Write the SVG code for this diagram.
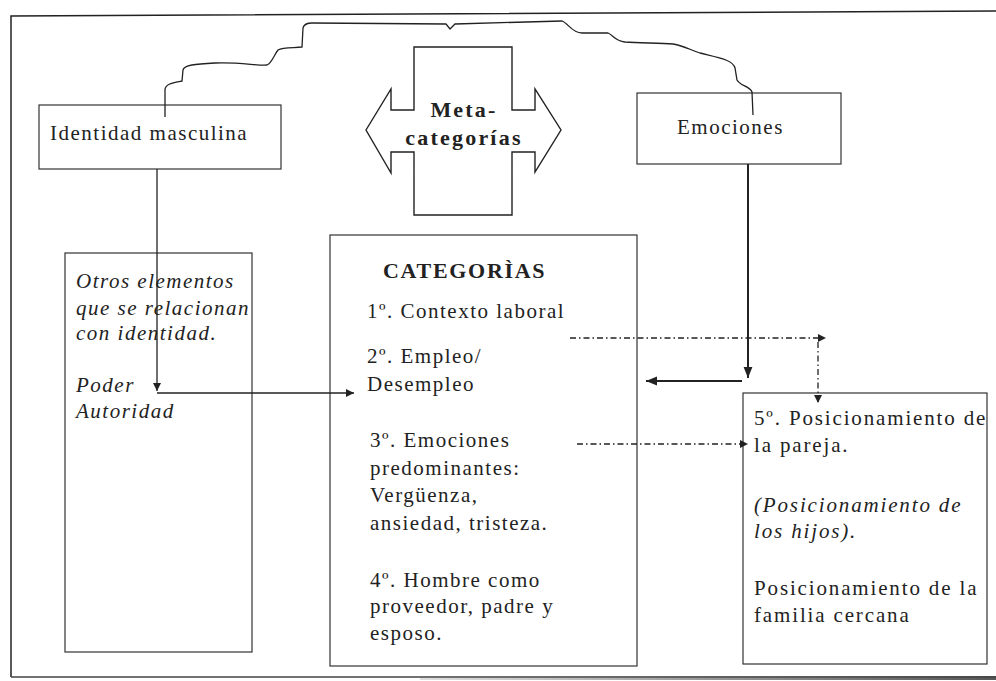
<svg xmlns="http://www.w3.org/2000/svg" width="996" height="681" viewBox="0 0 996 681">
<defs>
<style>
.box{fill:#fff;stroke:#333;stroke-width:1.2}
.t{font-family:"Liberation Serif","Times New Roman",serif;font-size:21px;letter-spacing:1.5px;fill:#222}
.p{letter-spacing:1.85px}
.i{font-style:italic}
.b{font-weight:bold}
.ln{fill:none;stroke:#222;stroke-width:1.3}
.thk{fill:none;stroke:#222;stroke-width:2}
.dd{fill:none;stroke:#222;stroke-width:1.3;stroke-dasharray:6 3 1.5 3}
</style>
<marker id="ah" viewBox="0 0 10 10" refX="10" refY="5" markerWidth="8" markerHeight="8" markerUnits="userSpaceOnUse" orient="auto">
<path d="M0,0 L10,5 L0,10 z" fill="#222"/>
</marker>
<marker id="ahb" viewBox="0 0 10 10" refX="10" refY="5" markerWidth="11" markerHeight="11" markerUnits="userSpaceOnUse" orient="auto">
<path d="M0,1 L10,5 L0,9 z" fill="#222"/>
</marker>
<linearGradient id="band" x1="0" x2="1" y1="0" y2="0">
<stop offset="0" stop-color="#666" stop-opacity="0.2"/>
<stop offset="0.5" stop-color="#555" stop-opacity="0.6"/>
<stop offset="1" stop-color="#444" stop-opacity="0.9"/>
</linearGradient>
</defs>
<rect width="996" height="681" fill="#fff"/>
<g id="frame">
<path d="M11,677 L11,16 L996,11" fill="none" stroke="#222" stroke-width="1.5"/>
<line x1="11" y1="677" x2="996" y2="677" stroke="#444" stroke-width="1.5"/>
<rect x="420" y="676" width="576" height="4" fill="url(#band)"/>
</g>
<g id="meta">
<path d="M366,130 L391,89 L391,110 L414,110 L414,47 L512,47 L512,110 L535,110 L535,89 L561,130 L535,172 L535,152 L512,152 L512,215 L414,215 L414,152 L391,152 L391,173 Z" fill="#fff" stroke="#222" stroke-width="1.4"/>
<text class="t b" x="464" y="117" text-anchor="middle" style="font-size:22px;letter-spacing:2.2px">Meta-</text>
<text class="t b" x="464" y="145" text-anchor="middle" style="font-size:22px;letter-spacing:2.2px">categorías</text>
</g>
<g id="identidad">
<rect class="box" x="39" y="105" width="242" height="64"/>
<text class="t" x="50" y="140">Identidad masculina</text>
</g>
<g id="emociones">
<rect class="box" x="637" y="93" width="204" height="71"/>
<text class="t" x="677" y="134">Emociones</text>
</g>
<g id="otros">
<rect class="box" x="65" y="253" width="187" height="399"/>
<text class="t i" x="76" y="288">Otros elementos</text>
<text class="t i" x="76" y="315">que se relacionan</text>
<text class="t i" x="76" y="340">con identidad.</text>
<text class="t i" x="76" y="392">Poder</text>
<text class="t i" x="76" y="418">Autoridad</text>
</g>
<g id="categorias">
<rect class="box" x="330" y="235" width="307" height="431"/>
<text class="t b" x="383" y="278" style="font-size:22px;letter-spacing:1.7px">CATEGORÌAS</text>
<text class="t" x="367" y="318">1º. Contexto laboral</text>
<text class="t" x="367" y="363">2º. Empleo/</text>
<text class="t" x="367" y="391">Desempleo</text>
<text class="t" x="370" y="447">3º. Emociones</text>
<text class="t" x="370" y="475">predominantes:</text>
<text class="t" x="370" y="502">Vergüenza,</text>
<text class="t" x="370" y="530">ansiedad, tristeza.</text>
<text class="t" x="370" y="587">4º. Hombre como</text>
<text class="t" x="370" y="613">proveedor, padre y</text>
<text class="t" x="370" y="640">esposo.</text>
</g>
<g id="posicionamiento">
<rect class="box" x="743" y="393" width="244" height="271"/>
<text class="t p" x="754" y="425">5º. Posicionamiento de</text>
<text class="t p" x="754" y="452">la pareja.</text>
<text class="t i p" x="754" y="512">(Posicionamiento de</text>
<text class="t i p" x="754" y="538">los hijos).</text>
<text class="t p" x="754" y="595">Posicionamiento de la</text>
<text class="t p" x="754" y="622">familia cercana</text>
</g>
<g id="connectors">
<path class="ln" d="M165,117 L165,90 C165,84 172,83 182,81 L183,70 C184,65 195,64 215,63 C240,62 258,66 267,65 C272,63 274,55 278,50 C283,47 295,48 302,47 L303,28 C304,24 307,23 312,23 L446,24 L450,29 L455,24 L562,21 C568,23 572,33 582,33 L608,33 C613,35 615,41 625,42 C640,43 660,43 673,44 C685,46 690,50 700,53 C720,58 733,60 735,68 L737,80 C740,86 750,86 752,92 L753,115"/>
<line class="ln" x1="157" y1="169" x2="157" y2="391" marker-end="url(#ah)"/>
<line class="ln" x1="157" y1="393" x2="354" y2="393" marker-end="url(#ah)"/>
<line class="thk" x1="748" y1="164" x2="748" y2="378" marker-end="url(#ahb)"/>
<line class="thk" x1="742" y1="381" x2="646" y2="381" marker-end="url(#ahb)"/>
<line class="dd" x1="570" y1="338" x2="826" y2="338" marker-end="url(#ah)"/>
<line class="dd" x1="818" y1="342" x2="818" y2="403" marker-end="url(#ah)"/>
<line class="dd" x1="577" y1="444" x2="748" y2="444" marker-end="url(#ah)"/>
</g>
</svg>
